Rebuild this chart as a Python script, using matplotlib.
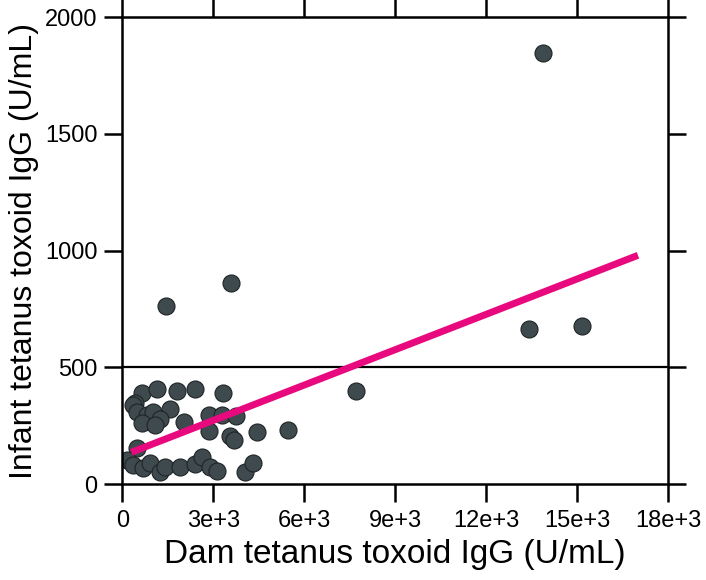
import numpy as np
import matplotlib
matplotlib.use("Agg")
import matplotlib.pyplot as plt

plt.rcParams["font.family"] = ["Liberation Sans", "DejaVu Sans"]

# Dam vs infant tetanus toxoid IgG (U/mL)
dam_igg = [
    640, 1130, 1790, 2400, 3310, 420, 340, 470, 820, 1020,
    1570, 1240, 640, 1080, 2030, 2870, 3280, 3750, 2860, 3550,
    3690, 4450, 5470, 470, 140, 360, 690, 910, 1240, 1410,
    1900, 2400, 2620, 2890, 3110, 4040, 4320,
    1440, 3580, 13880, 7700, 13400, 15160,
]
infant_igg = [
    389, 407, 400, 406, 391, 346, 338, 310, 296, 310,
    321, 277, 263, 253, 267, 296, 296, 291, 228, 206,
    188, 224, 231, 153, 103, 81, 67, 89, 53, 74,
    74, 84, 117, 74, 56, 53, 91,
    764, 862, 1845, 400, 663, 678,
]

# regression line ends
fit_x = [300, 17000]
fit_y = [136, 980]

threshold = 500

x_ticks = [0, 3000, 6000, 9000, 12000, 15000, 18000]
x_tick_labels = ["0", "3e+3", "6e+3", "9e+3", "12e+3", "15e+3", "18e+3"]
y_ticks = [0, 500, 1000, 1500, 2000]

fig = plt.figure(figsize=(7.06, 5.80), dpi=100)
ax = fig.add_axes([0.1732, 0.1655, 0.7734, 0.8047])

ax.axhline(threshold, color="black", lw=1.6, zorder=1)
ax.scatter(dam_igg, infant_igg, s=150, color="#3f4a4e", edgecolor="#1e2426",
           linewidth=0.8, zorder=2)
ax.plot(fit_x, fit_y, color="#e8097f", lw=5, solid_capstyle="butt", zorder=3)

ax.set_xlim(0, 18000)
ax.set_ylim(0, 2000)
ax.set_xticks(x_ticks)
ax.set_xticklabels(x_tick_labels)
ax.set_yticks(y_ticks)

for side in ["left", "right", "top", "bottom"]:
    ax.spines[side].set_linewidth(1.8)
ax.tick_params(axis="both", which="both", direction="out", length=13, width=1.8,
               top=True, right=True, labelsize=17)
ax.tick_params(axis="y", pad=5)
ax.tick_params(axis="x", pad=6)

ax.set_xlabel("Dam tetanus toxoid IgG (U/mL)", fontsize=24, labelpad=5)
ax.set_ylabel("Infant tetanus toxoid IgG (U/mL)", fontsize=23, labelpad=4)

fig.savefig("out.png", dpi=100)
